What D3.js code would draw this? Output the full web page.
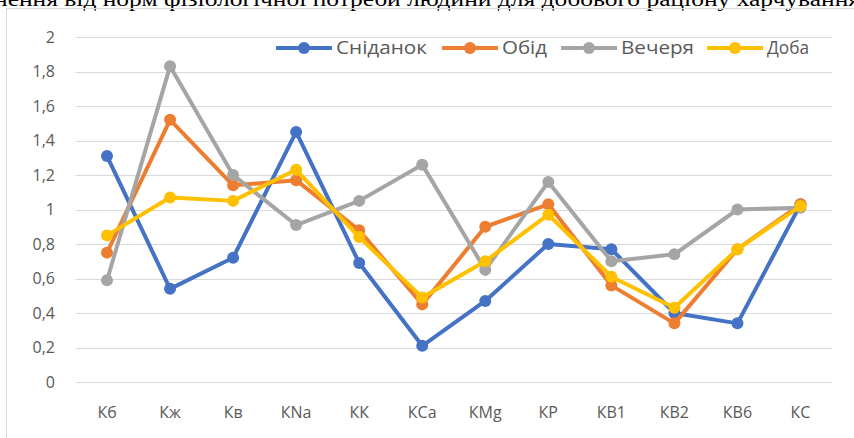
<!DOCTYPE html>
<html>
<head>
<meta charset="utf-8">
<script src="https://cdn.jsdelivr.net/npm/d3@7"></script>
<style>
  body { margin: 0; background: #fff; }
  svg { display: block; }
</style>
</head>
<body>
<div class="chart"></div>
<script>
// categories and series
const categories = ['Кб', 'Кж', 'Кв', 'КNa', 'КК', 'КСа', 'КMg', 'КР', 'КВ1', 'КВ2', 'КВ6', 'КС']
const breakfast = [1.31, 0.54, 0.72, 1.45, 0.69, 0.21, 0.47, 0.80, 0.77, 0.40, 0.34, 1.03]
const lunch = [0.75, 1.52, 1.14, 1.17, 0.88, 0.45, 0.90, 1.03, 0.56, 0.34, 0.77, 1.03]
const dinner = [0.59, 1.83, 1.20, 0.91, 1.05, 1.26, 0.65, 1.16, 0.70, 0.74, 1.00, 1.01]
const day = [0.85, 1.07, 1.05, 1.23, 0.84, 0.49, 0.70, 0.97, 0.61, 0.43, 0.77, 1.02]
const seriesNames = ['Сніданок', 'Обід', 'Вечеря', 'Доба']
const yTicks = [0, 0.2, 0.4, 0.6, 0.8, 1, 1.2, 1.4, 1.6, 1.8, 2]

const series = [
  { name: seriesNames[0], values: breakfast, color: '#4472c4' },
  { name: seriesNames[1], values: lunch, color: '#ed7d31' },
  { name: seriesNames[2], values: dinner, color: '#a5a5a5' },
  { name: seriesNames[3], values: day, color: '#ffc000' }
]

const width = 854
const height = 438
const svg = d3.select('.chart').append('svg').attr('width', width).attr('height', height)

// caption line from the page above, cut off at the top of the picture
svg.append('text')
  .attr('x', -6)
  .attr('y', 6)
  .attr('textLength', 866)
  .attr('lengthAdjust', 'spacingAndGlyphs')
  .style('font', '20px "Liberation Serif", serif')
  .attr('fill', '#000')
  .text('нення від норм фізіологічної потреби людини для добового раціону харчування')

// chart frame
svg.append('rect')
  .attr('x', 6.5).attr('y', 8.5)
  .attr('width', 860).attr('height', 440)
  .attr('fill', 'none').attr('stroke', '#d9d9d9')

const x = d3.scaleBand().domain(categories).range([75.5, 832])
const y = d3.scaleLinear().domain([0, 2]).range([382, 37])

// gridlines
svg.append('g').selectAll('line')
  .data(yTicks)
  .join('line')
  .attr('x1', 75.5).attr('x2', 832)
  .attr('y1', d => Math.round(y(d)) + 0.5)
  .attr('y2', d => Math.round(y(d)) + 0.5)
  .attr('stroke', '#d9d9d9')
  .attr('stroke-width', 1)

const fmt = d => String(d).replace('.', ',')
const labelFont = '16px "Open Sans", sans-serif'

svg.append('g').selectAll('text')
  .data(yTicks)
  .join('text')
  .attr('x', 55)
  .attr('y', d => y(d))
  .attr('dy', '0.35em')
  .attr('text-anchor', 'end')
  .style('font', labelFont)
  .attr('fill', '#595959')
  .text(fmt)

svg.append('g').selectAll('text')
  .data(categories)
  .join('text')
  .attr('x', d => x(d) + x.bandwidth() / 2)
  .attr('y', 418)
  .attr('text-anchor', 'middle')
  .style('font', labelFont)
  .attr('fill', '#595959')
  .text(d => d)

const line = d3.line()
  .x((d, i) => x(categories[i]) + x.bandwidth() / 2)
  .y(d => y(d))

const groups = svg.append('g').selectAll('g')
  .data(series)
  .join('g')

groups.append('path')
  .attr('d', s => line(s.values))
  .attr('fill', 'none')
  .attr('stroke', s => s.color)
  .attr('stroke-width', 4)
  .attr('stroke-linejoin', 'round')

groups.selectAll('circle')
  .data(s => s.values.map((v, i) => ({ v, i, color: s.color })))
  .join('circle')
  .attr('cx', d => x(categories[d.i]) + x.bandwidth() / 2)
  .attr('cy', d => y(d.v))
  .attr('r', 6)
  .attr('fill', d => d.color)

// legend
const legendX = [276, 442, 561, 707]
const legendW = [91, 45, 73, 42]
const legend = svg.append('g').selectAll('g')
  .data(series)
  .join('g')
  .attr('transform', (d, i) => `translate(${legendX[i]},48)`)

legend.append('line')
  .attr('x1', 0).attr('x2', 56)
  .attr('stroke', d => d.color)
  .attr('stroke-width', 4)

legend.append('circle')
  .attr('cx', 28).attr('r', 6)
  .attr('fill', d => d.color)

legend.append('text')
  .attr('x', 60)
  .attr('dy', '0.36em')
  .attr('textLength', (d, i) => legendW[i])
  .attr('lengthAdjust', 'spacingAndGlyphs')
  .style('font', '18px "Open Sans", sans-serif')
  .attr('fill', '#595959')
  .text(d => d.name)
</script>
</body>
</html>
